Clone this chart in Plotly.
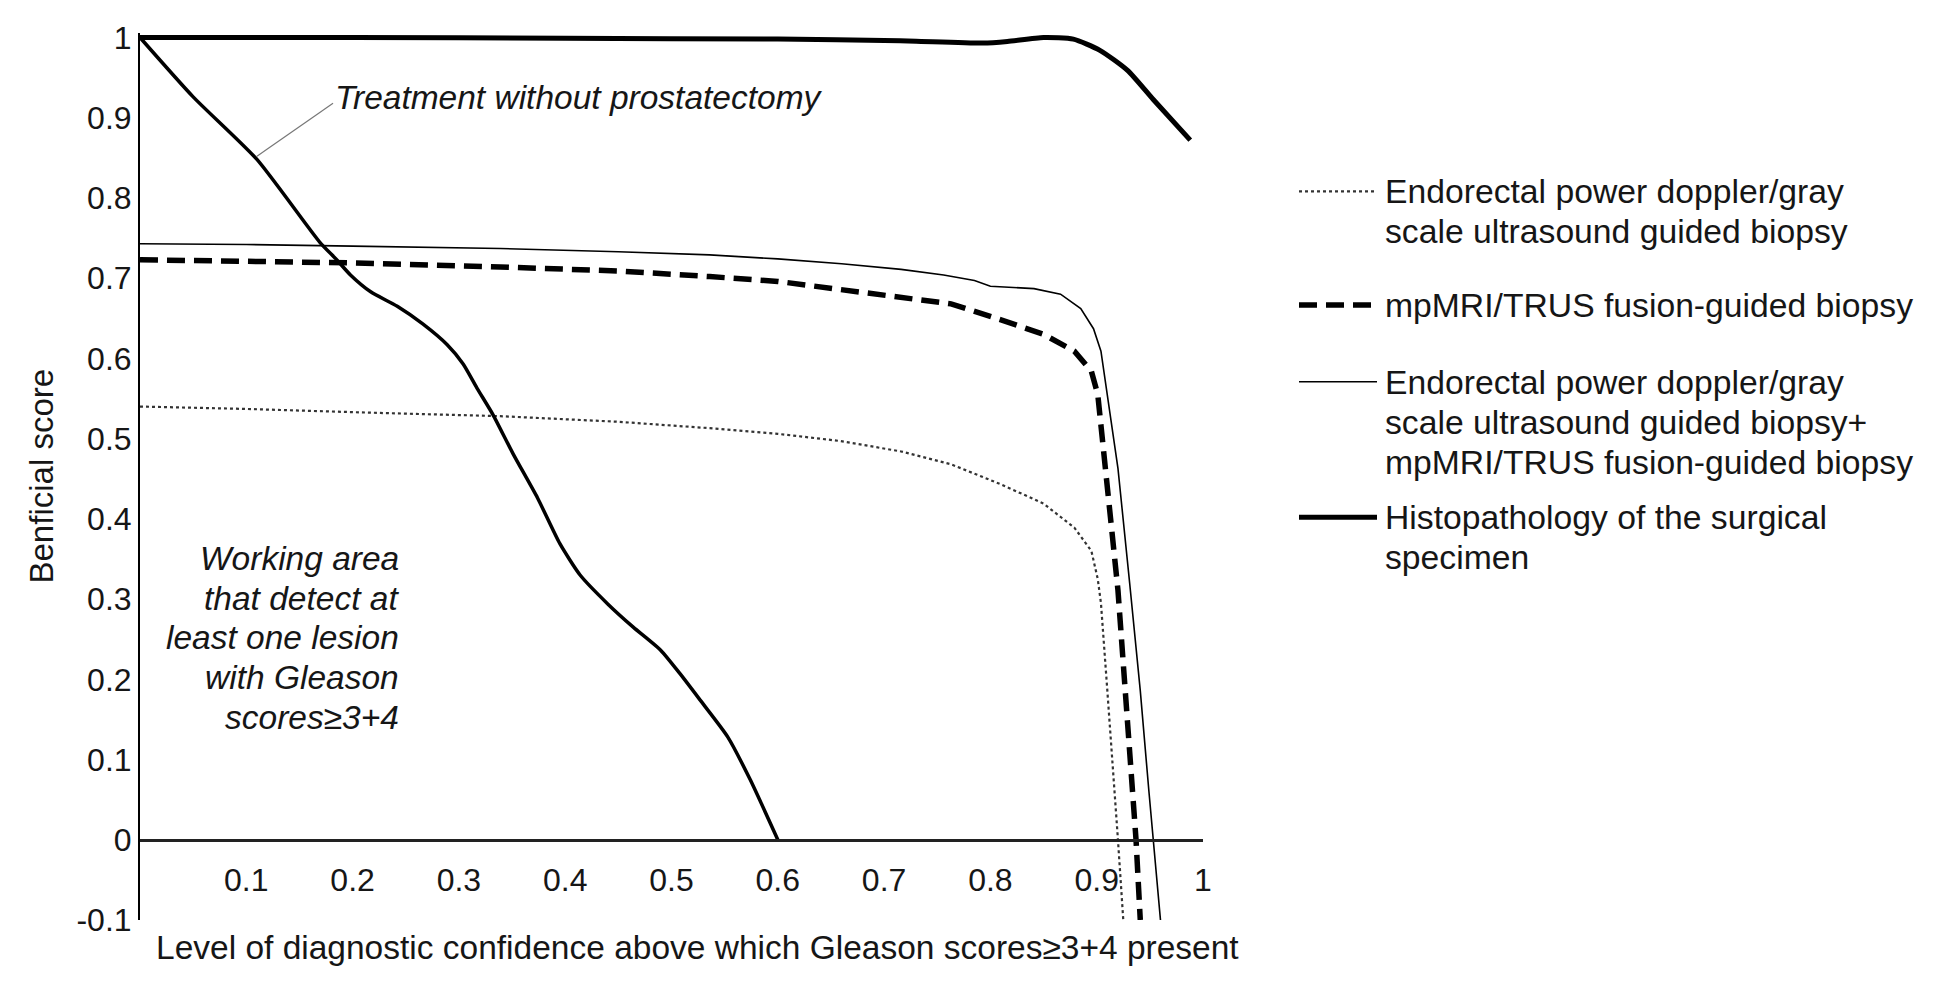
import plotly.graph_objects as go

# Endorectal power doppler/gray scale ultrasound guided biopsy (dotted)
us_x = [0, 0.1, 0.226, 0.339, 0.45, 0.536, 0.6, 0.659, 0.716, 0.763, 0.81, 0.85,
        0.879, 0.895, 0.901, 0.904, 0.910, 0.917, 0.920, 0.925]
us_y = [0.540, 0.537, 0.532, 0.528, 0.521, 0.513, 0.506, 0.497, 0.484, 0.468, 0.443, 0.419,
        0.389, 0.360, 0.325, 0.295, 0.186, 0.062, 0.0, -0.1]

# mpMRI/TRUS fusion-guided biopsy (thick dashed)
mri_x = [0, 0.1, 0.2, 0.339, 0.45, 0.536, 0.6, 0.652, 0.716, 0.763, 0.81, 0.85,
         0.879, 0.895, 0.901, 0.907, 0.913, 0.920, 0.927, 0.933, 0.937, 0.941]
mri_y = [0.723, 0.721, 0.719, 0.714, 0.709, 0.702, 0.696, 0.687, 0.677, 0.668, 0.648, 0.630,
         0.609, 0.584, 0.555, 0.484, 0.401, 0.311, 0.186, 0.062, 0.0, -0.1]

# combined: ultrasound + mpMRI/TRUS (thin solid)
comb_x = [0, 0.1, 0.2, 0.339, 0.45, 0.536, 0.6, 0.66, 0.716, 0.756, 0.785, 0.80,
          0.841, 0.866, 0.885, 0.897, 0.904, 0.911, 0.920, 0.931, 0.941, 0.949, 0.953, 0.960]
comb_y = [0.743, 0.742, 0.740, 0.737, 0.733, 0.729, 0.724, 0.718, 0.711, 0.704, 0.697, 0.690,
          0.687, 0.680, 0.662, 0.637, 0.609, 0.547, 0.463, 0.32, 0.186, 0.062, 0.0, -0.1]

# Histopathology of the surgical specimen (thick solid)
hist_x = [0, 0.2, 0.4, 0.6, 0.715, 0.793, 0.816, 0.85, 0.878, 0.903, 0.929, 0.953, 0.988]
hist_y = [1.0, 1.0, 0.999, 0.998, 0.996, 0.993, 0.995, 1.0, 0.998, 0.984, 0.959, 0.923, 0.872]

# Treatment without prostatectomy
treat_x = [0, 0.05, 0.110, 0.169, 0.185, 0.198, 0.217, 0.242, 0.266, 0.289, 0.304, 0.317,
           0.332, 0.351, 0.374, 0.395, 0.414, 0.440, 0.464, 0.490, 0.508, 0.527, 0.553, 0.574, 0.600]
treat_y = [1.0, 0.926, 0.848, 0.745, 0.723, 0.704, 0.683, 0.665, 0.643, 0.617, 0.593, 0.563,
           0.530, 0.481, 0.426, 0.369, 0.330, 0.294, 0.265, 0.236, 0.207, 0.174, 0.128, 0.075, 0.0]

x_ticks = [0.1, 0.2, 0.3, 0.4, 0.5, 0.6, 0.7, 0.8, 0.9, 1.0]
x_ticktext = ['0.1', '0.2', '0.3', '0.4', '0.5', '0.6', '0.7', '0.8', '0.9', '1']
y_ticks = [-0.1, 0, 0.1, 0.2, 0.3, 0.4, 0.5, 0.6, 0.7, 0.8, 0.9, 1.0]
y_ticktext = ['-0.1', '0', '0.1', '0.2', '0.3', '0.4', '0.5', '0.6', '0.7', '0.8', '0.9', '1']

legend_labels = [
    ['Endorectal power doppler/gray', 'scale ultrasound guided biopsy'],
    ['mpMRI/TRUS fusion-guided biopsy'],
    ['Endorectal power doppler/gray', 'scale ultrasound guided biopsy+', 'mpMRI/TRUS fusion-guided biopsy'],
    ['Histopathology of the surgical', 'specimen'],
]
working_lines = ['Working area', 'that detect at', 'least one lesion', 'with Gleason', 'scores≥3+4']

FONT = 'Liberation Sans, Arial, Helvetica, sans-serif'
INK = '#161616'

# page / plot box in page pixels (the page body has an 8px margin)
W, H, OFF = 1937, 991, 8
L, R, T, B = 140, 1203, 30, 920
Y_MIN, Y_MAX = -0.1, 1.0056
FW, FH = W - 2 * OFF, H - 2 * OFF


def px(xp):
    return (xp - L) / (R - L)


def py(yp):
    return (B - yp) / (B - T)


styles = [
    dict(color='#333333', width=2.2, dash='3px,3px'),
    dict(color='black', width=5.5, dash='18px,9px'),
    dict(color='black', width=1.6),
    dict(color='black', width=5),
]

fig = go.Figure()
fig.add_trace(go.Scatter(x=us_x, y=us_y, mode='lines', line=styles[0], showlegend=False))
fig.add_trace(go.Scatter(x=mri_x, y=mri_y, mode='lines', line=styles[1], showlegend=False))
fig.add_trace(go.Scatter(x=comb_x, y=comb_y, mode='lines', line=styles[2], showlegend=False))
fig.add_trace(go.Scatter(x=hist_x, y=hist_y, mode='lines',
                         line=dict(styles[3], shape='spline', smoothing=0.6), showlegend=False))
fig.add_trace(go.Scatter(x=treat_x, y=treat_y, mode='lines',
                         line=dict(color='black', width=3.5, shape='spline', smoothing=0.6),
                         showlegend=False))

annotations = []
shapes = []

# hand-made legend on the right
legend_tops = [189, 303, 380, 516]
for lines, top, st in zip(legend_labels, legend_tops, styles):
    shapes.append(dict(type='line', xref='paper', yref='paper',
                       x0=px(1299), x1=px(1377), y0=py(top), y1=py(top), line=st))
    for i, txt in enumerate(lines):
        annotations.append(dict(text=txt, xref='paper', yref='paper', x=px(1383), y=py(top + 40 * i),
                                xanchor='left', yanchor='middle', showarrow=False,
                                font=dict(size=33.7, color=INK, family=FONT)))

# "Treatment without prostatectomy" label with leader line
annotations.append(dict(text='<i>Treatment without prostatectomy</i>', x=0.1816, y=0.925,
                        xanchor='left', yanchor='middle', showarrow=False,
                        font=dict(size=33.5, color=INK, family=FONT)))
shapes.append(dict(type='line', xref='x', yref='y', x0=0.1816, y0=0.918, x1=0.110, y1=0.852,
                   line=dict(color='#777', width=1.2)))

# working area note
for i, txt in enumerate(working_lines):
    annotations.append(dict(text='<i>' + txt + '</i>', xref='x', yref='paper', x=0.2455,
                            y=py(557 + 40 * i), xanchor='right', yanchor='middle', showarrow=False,
                            font=dict(size=33.5, color=INK, family=FONT)))

# axis titles
annotations.append(dict(text='Level of diagnostic confidence above which Gleason scores≥3+4 present',
                        xref='paper', yref='paper', x=px(697), y=py(948), xanchor='center',
                        yanchor='middle', showarrow=False, font=dict(size=33.5, color=INK, family=FONT)))
annotations.append(dict(text='Benficial score', xref='paper', yref='paper', x=px(41), y=py(475),
                        xanchor='center', yanchor='middle', textangle=-90, showarrow=False,
                        font=dict(size=33, color=INK, family=FONT)))

fig.update_layout(
    width=FW, height=FH,
    margin=dict(l=L - OFF, r=(W - OFF) - R, t=T - OFF, b=(H - OFF) - B),
    plot_bgcolor='white', paper_bgcolor='white',
    font=dict(family=FONT, size=32, color=INK),
    annotations=annotations, shapes=shapes,
    xaxis=dict(range=[0, 1], tickvals=x_ticks, ticktext=x_ticktext, showgrid=False, zeroline=False,
               showline=True, linecolor='#222', linewidth=2.5, ticks='',
               anchor='free', position=(0 - Y_MIN) / (Y_MAX - Y_MIN), ticklabelstandoff=11,
               tickfont=dict(size=32, color=INK)),
    yaxis=dict(range=[Y_MIN, Y_MAX], tickvals=y_ticks, ticktext=y_ticktext, showgrid=False,
               zeroline=False, showline=True, linecolor='black', linewidth=2, ticks='',
               ticklabelstandoff=0, tickfont=dict(size=32, color=INK)),
)

fig.write_html("out.html")
